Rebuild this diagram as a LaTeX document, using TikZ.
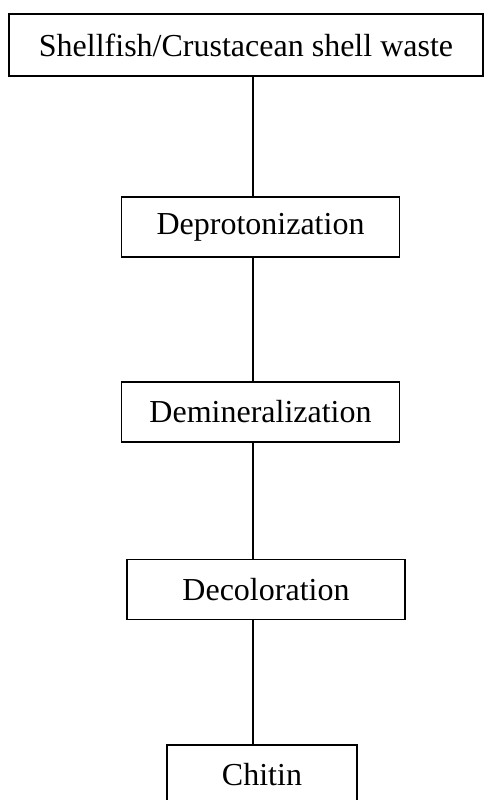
\documentclass[tikz,border=0pt]{standalone}
\usepackage{fontspec}
\setmainfont{Liberation Serif}
\usetikzlibrary{positioning}
\tikzset{
  link/.style={black,line width=1.3pt},
  stepbox/.style={draw=black,line width=1.3pt,fill=white,inner sep=0pt,
                  minimum width=278pt,minimum height=60pt,
                  font=\fontsize{32}{38}\selectfont},
}
\begin{document}
\begin{tikzpicture}[x=1pt,y=-1pt]
  \path[use as bounding box,fill=white] (0,0) rectangle (483,800);
  \coordinate (spine) at (253,0);

  \node[stepbox,minimum width=474pt,minimum height=62pt] (waste) at (246,45)
    {Shellfish/Crustacean shell waste};
  \node[stepbox] (deprot) at (260.5,227) {Deprotonization};
  \node[stepbox] (demin) at (260.5,412) {Deminerali\-zation};
  \node[stepbox] (decol) at (266,589.5) {Decoloration};
  \node[stepbox,minimum width=190pt] (chitin) at (262,775) {Chitin};

  \draw[link] (waste.south -| spine) -- (deprot.north -| spine);
  \draw[link] (deprot.south -| spine) -- (demin.north -| spine);
  \draw[link] (demin.south -| spine) -- (decol.north -| spine);
  \draw[link] (decol.south -| spine) -- (chitin.north -| spine);
\end{tikzpicture}
\end{document}
